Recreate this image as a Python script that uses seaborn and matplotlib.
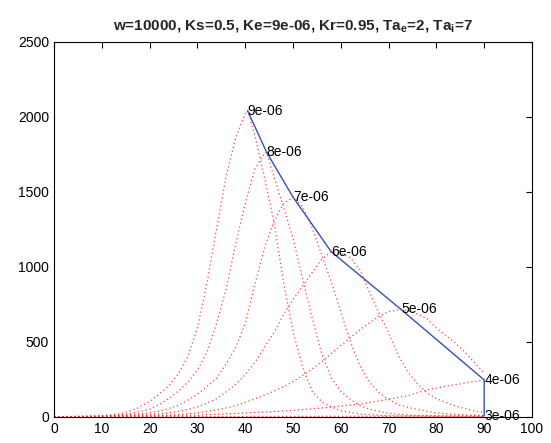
import matplotlib
matplotlib.use("Agg")
import matplotlib.pyplot as plt
import seaborn as sns
import pandas as pd

ke_labels = ["9e-06", "8e-06", "7e-06", "6e-06", "5e-06", "4e-06", "3e-06"]

t_9 = [0, 5, 10, 14, 17, 20, 22, 24, 26, 28, 30, 32, 34, 36, 38, 40, 40.5, 42, 44, 46, 48, 50, 52, 54, 56, 58, 60, 64, 70, 80, 90]
y_9 = [0, 1, 5, 20, 50, 100, 150, 205, 285, 400, 590, 890, 1250, 1600, 1860, 2020, 2040, 1880, 1600, 1300, 900, 570, 330, 170, 100, 65, 40, 18, 6, 2, 1]

t_8 = [0, 5, 10, 15, 18, 20, 22, 24, 26, 28, 30, 32, 34, 36, 38, 40, 42, 44, 44.5, 46, 48, 50, 52, 54, 56, 58, 60, 62, 64, 66, 70, 75, 80, 90]
y_8 = [0, 1, 4, 15, 35, 50, 80, 120, 170, 230, 310, 430, 620, 850, 1150, 1420, 1650, 1755, 1762, 1600, 1400, 1190, 920, 660, 420, 260, 170, 115, 75, 50, 22, 10, 5, 2]

t_7 = [0, 10, 15, 20, 23, 26, 28, 30, 32, 34, 36, 38, 40, 42, 44, 46, 48, 50, 52, 54, 56, 58, 60, 62, 64, 66, 68, 70, 72, 75, 80, 85, 90]
y_7 = [0, 3, 10, 25, 45, 75, 110, 150, 200, 255, 350, 460, 620, 880, 1120, 1300, 1420, 1464, 1400, 1260, 1080, 900, 700, 500, 340, 230, 160, 115, 80, 55, 25, 14, 8]

t_6 = [0, 10, 15, 20, 24, 27, 30, 32, 34, 36, 38, 40, 42, 44, 46, 48, 50, 52, 54, 56, 58, 60, 62, 64, 66, 68, 70, 72, 74, 76, 78, 80, 84, 88, 90]
y_6 = [0, 2, 6, 14, 25, 40, 65, 90, 120, 165, 215, 280, 360, 460, 560, 680, 780, 870, 960, 1050, 1100, 1090, 1060, 980, 830, 690, 560, 410, 300, 220, 160, 120, 70, 38, 28]

t_5 = [0, 10, 20, 25, 30, 34, 37, 40, 43, 46, 49, 52, 55, 58, 61, 64, 66, 68, 70, 72.6, 75, 78, 80, 82, 84, 86, 88, 90]
y_5 = [0, 1, 6, 12, 25, 45, 65, 95, 130, 170, 215, 275, 340, 420, 500, 580, 625, 670, 700, 715, 700, 655, 590, 540, 490, 430, 360, 290]

t_4 = [0, 10, 20, 30, 37, 40, 45, 50, 55, 60, 64.5, 68, 70, 74, 78, 82, 86, 90]
y_4 = [0, 1, 4, 10, 20, 25, 32, 42, 55, 70, 86, 105, 117, 140, 178, 203, 225, 245]

t_3 = [0, 30, 50, 70, 90]
y_3 = [0, 1, 2, 3, 5]

title_text = r"w=10000, Ks=0.5, Ke=9e-06, Kr=0.95, Ta$_\mathbf{e}$=2, Ta$_\mathbf{i}$=7"
x_ticks = [0, 10, 20, 30, 40, 50, 60, 70, 80, 90, 100]
y_ticks = [0, 500, 1000, 1500, 2000, 2500]

curves_t = [t_9, t_8, t_7, t_6, t_5, t_4, t_3]
curves_y = [y_9, y_8, y_7, y_6, y_5, y_4, y_3]

rows = []
for lab, ts, ys in zip(ke_labels, curves_t, curves_y):
    for a, b in zip(ts, ys):
        rows.append({"Ke": lab, "t": a, "v": b})
df = pd.DataFrame(rows)

# peaks of each curve (for the blue connecting line and labels)
peaks = df.loc[df.groupby("Ke", sort=False)["v"].idxmax()].copy()
peaks["order"] = peaks["Ke"].map({k: i for i, k in enumerate(ke_labels)})
peaks = peaks.sort_values("order")

sns.set_style("white")
plt.rcParams["font.family"] = ["Liberation Sans", "DejaVu Sans"]
plt.rcParams["mathtext.fontset"] = "custom"
plt.rcParams["mathtext.rm"] = "Liberation Sans"
plt.rcParams["mathtext.bf"] = "Liberation Sans:bold"

fig = plt.figure(figsize=(5.51, 4.43), dpi=100)
ax = fig.add_axes([0.098, 0.0594, 0.8675, 0.8465])

sns.lineplot(data=df, x="t", y="v", units="Ke", estimator=None, sort=False,
             color="#ff2020", linestyle=(0, (1, 2.2)), linewidth=0.9, alpha=0.85, ax=ax)
sns.lineplot(data=peaks, x="t", y="v", estimator=None, sort=False,
             color="#3a4fb2", linewidth=1.0, ax=ax)

for _, r in peaks.iterrows():
    ax.text(r["t"], r["v"], r["Ke"], ha="left", va="center", fontsize=10, color="black")

ax.set_xlim(0, 100)
ax.set_ylim(0, 2500)
ax.set_xticks(x_ticks)
ax.set_yticks(y_ticks)
ax.set_xlabel("")
ax.set_ylabel("")
ax.tick_params(direction="in", length=4, width=0.8, top=True, right=True,
               labelsize=10, colors="black")
for s in ax.spines.values():
    s.set_color("black")
    s.set_linewidth(0.8)
ax.set_title(title_text, fontsize=11, fontweight="bold", pad=8)

fig.savefig("out.png", dpi=100)
